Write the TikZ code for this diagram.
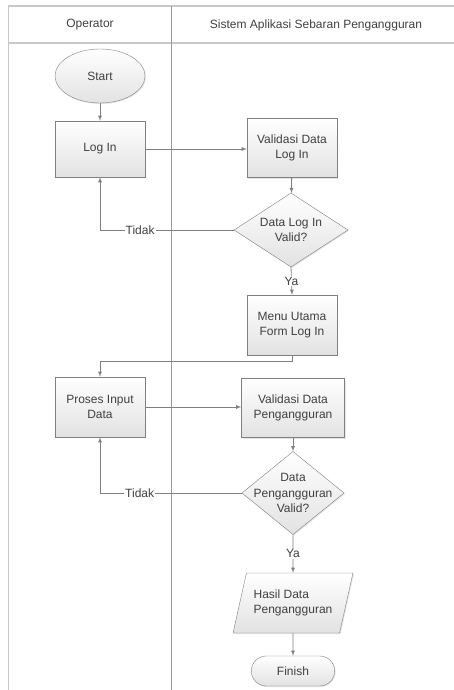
\documentclass[tikz,border=0pt]{standalone}
\usepackage{fontspec}
\setmainfont{Liberation Sans}
\usepackage{tikz}
\usetikzlibrary{arrows, shapes, shadows}

\definecolor{garis}{RGB}{128,128,128}
\definecolor{lajur}{RGB}{200,200,200}
\definecolor{isi}{RGB}{226,226,226}
\definecolor{teks}{RGB}{64,64,64}

\begin{document}
\begin{tikzpicture}[x=1pt, y=-1pt]
			\tikzstyle{every node} = [font = \fontsize{12}{15.5}\selectfont, text = teks]
			\tikzstyle{bentuk} = [draw = garis, top color = white, bottom color = isi,
				drop shadow = {opacity = 0.2, shadow xshift = 1pt, shadow yshift = -1pt}]
			\tikzstyle{proses} = [bentuk, rectangle, minimum width = 90pt, minimum height = 58pt, align = center]
			\tikzstyle{keputusan} = [bentuk, diamond, inner sep = 0pt, align = center]
			\tikzstyle{terminal} = [bentuk, ellipse, minimum width = 90pt, minimum height = 54pt]
			\tikzstyle{akhir} = [bentuk, rounded rectangle, minimum width = 90pt, minimum height = 30pt]
			\tikzstyle{keluaran} = [bentuk, trapezium, trapezium left angle = 67, trapezium right angle = 113,
				trapezium stretches = true, minimum width = 120pt, minimum height = 60pt, align = left, inner sep = 0pt]
			\tikzstyle{label} = [fill = white, inner sep = 1pt]
			\tikzstyle{panah} = [draw = garis, line width = 0.8pt, ->, >=latex]
				\useasboundingbox (0,0) rectangle (454,690);
				% lajur
				\path[draw = lajur, line width = 1.3pt] (454,6) -- (8.5,6) -- (8.5,690);
				\path[draw = lajur, line width = 1.3pt] (8.5,43) -- (454,43);
				\path[draw = garis!80, line width = 1pt] (171,6) -- (171,690);
				\node (operator) at (90,25) {Operator};
				\node (sistem) at (316,25) {Sistem Aplikasi Sebaran Pengangguran};
				% operator
				\node[terminal] (start) at (100,76) {Start};
				\node[proses, minimum height = 56pt] (login) at (100,149) {Log In};
				\node[proses, minimum height = 60pt] (input) at (100,407) {Proses Input\\Data};
				% sistem
				\node[proses, minimum height = 59pt] (validasi1) at (292,148) {Validasi Data\\Log In};
				\node[keputusan, minimum width = 114pt, minimum height = 74pt, shape aspect = 1.54] (cek1) at (291,230) {Data Log In\\Valid?};
				\node[proses, minimum height = 60pt] (menu) at (292,325) {Menu Utama\\Form Log In};
				\node[proses, minimum width = 103pt, minimum height = 59pt] (validasi2) at (293,408) {Validasi Data\\Pengangguran};
				\node[keputusan, minimum width = 102pt, minimum height = 83pt, shape aspect = 1.23, inner sep = -5.6pt] (cek2) at (293,493) {Data\\Pengangguran\\Valid?};
				\node[keluaran] (hasil) at (293,603) {Hasil Data\\Pengangguran};
				\node[akhir] (finish) at (293,671) {Finish};
				\coordinate (belok) at (292,361);
				% alur
				\path[panah] (start) -- (login);
				\path[panah] (login.east) -- (login.east -| validasi1.west);
				\path[panah] (validasi1) -- (cek1);
				\path[panah] (cek1.west) -- node[label, pos = 0.70] {Tidak} (cek1.west -| login) -- (login.south);
				\path[panah] (cek1.south) -- node[label] {Ya} (menu.north);
				\path[panah] (menu.south) -- (belok) -| (input.north);
				\path[panah] (input.east) -- (input.east -| validasi2.west);
				\path[panah] (validasi2) -- (cek2);
				\path[panah] (cek2.west) -- node[label, pos = 0.72] {Tidak} (cek2.west -| input) -- (input.south);
				\path[panah] (cek2.south) -- node[label] {Ya} (hasil.north);
				\path[panah] (hasil) -- (finish);
\end{tikzpicture}
\end{document}
